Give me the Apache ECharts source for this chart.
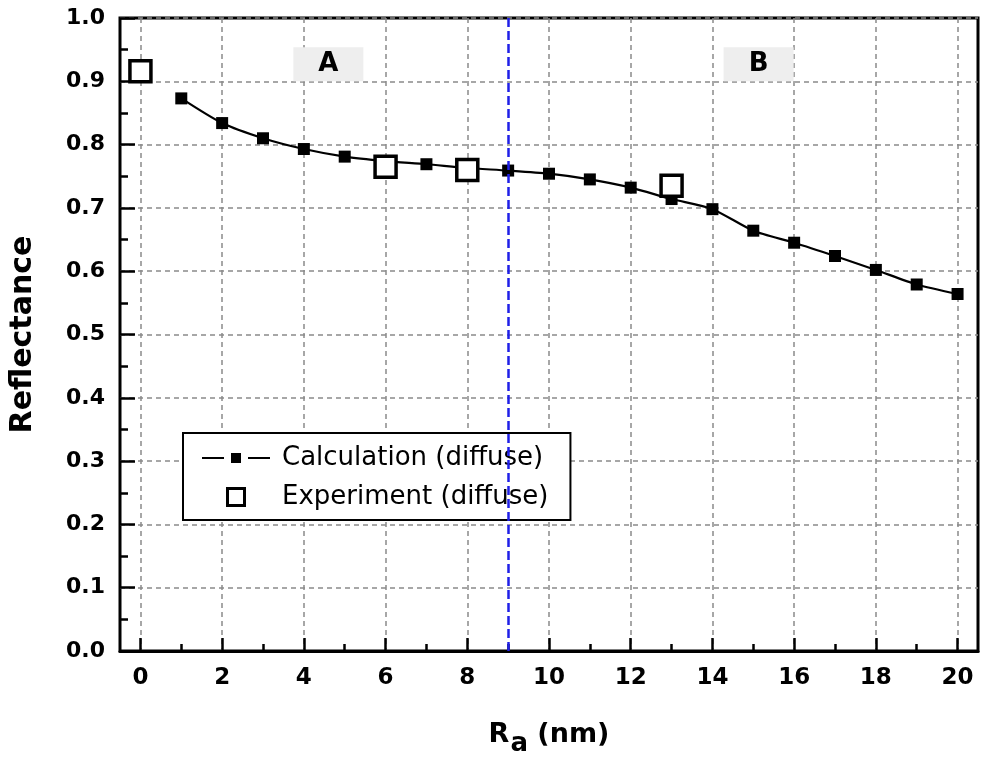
<!DOCTYPE html>
<html>
<head>
<meta charset="utf-8">
<script src="https://cdn.jsdelivr.net/npm/echarts@6/dist/echarts.min.js"></script>
<style>html,body{margin:0;padding:0;background:#fff}#c{width:988px;height:760px}</style>
</head>
<body>
<div id="c"></div>
<script>
// ---- data ----
const calcX = [1, 2, 3, 4, 5, 6, 7, 8, 9, 10, 11, 12, 13, 14, 15, 16, 17, 18, 19, 20];
const calcY = [0.873, 0.834, 0.810, 0.793, 0.781, 0.774, 0.769, 0.763, 0.759, 0.754, 0.745, 0.732, 0.714, 0.698, 0.664, 0.645, 0.624, 0.602, 0.579, 0.564];
const expX = [0, 6, 8, 13];
const expY = [0.916, 0.765, 0.760, 0.735];
const xMajorTicks = [0, 2, 4, 6, 8, 10, 12, 14, 16, 18, 20];
const xMinorTicks = [1, 3, 5, 7, 9, 11, 13, 15, 17, 19];
const regionLabels = ['A', 'B'];
const regionLabelX = [4.6, 15.13];
const regionLabelY = [0.927, 0.927];
const boundaryX = 9;
const seriesNames = ['Calculation (diffuse)', 'Experiment (diffuse)'];

const FONT = 'DejaVu Sans';
const gridLine = { show: true, lineStyle: { color: '#8a8a8a', width: 1.5, type: [5, 4] } };

const chart = echarts.init(document.getElementById('c'), null, { renderer: 'canvas' });
chart.setOption({
  animation: false,
  backgroundColor: '#fff',
  grid: { left: 120, right: 10, top: 18, bottom: 109, containLabel: false, outerBoundsMode: 'none', show: true, borderColor: '#000', borderWidth: 3, backgroundColor: 'transparent' },
  xAxis: [
    {
      type: 'value', min: -0.5, max: 20.5, position: 'bottom',
      axisLine: { show: true, onZero: false, lineStyle: { color: '#000', width: 3 } },
      axisTick: { show: true, inside: true, length: 13, lineStyle: { color: '#000', width: 2.5 }, customValues: xMajorTicks },
      axisLabel: { show: true, customValues: xMajorTicks, color: '#000', fontSize: 23, fontWeight: 'bold', fontFamily: FONT, margin: 16 },
      splitLine: Object.assign({ customValues: xMajorTicks }, gridLine),
      name: '{r|R}{s|a}{r| (nm)}',
      nameLocation: 'middle', nameGap: 70,
      nameTextStyle: {
        rich: {
          r: { fontSize: 27, fontWeight: 'bold', fontFamily: FONT, color: '#000', lineHeight: 30, verticalAlign: 'top' },
          s: { fontSize: 26, fontWeight: 'bold', fontFamily: FONT, color: '#000', lineHeight: 30, verticalAlign: 'top', padding: [10, 0, 0, 1] }
        }
      }
    },
    {
      type: 'value', min: -0.5, max: 20.5, position: 'bottom',
      axisLine: { show: false, onZero: false },
      axisTick: { show: true, inside: true, length: 7, lineStyle: { color: '#000', width: 2.5 }, customValues: xMinorTicks },
      axisLabel: { show: false },
      splitLine: { show: false }
    }
  ],
  yAxis: [
    {
      type: 'value', min: 0, max: 1, interval: 0.1, position: 'left',
      axisLine: { show: false, onZero: false },
      axisTick: { show: true, inside: true, length: 15, lineStyle: { color: '#000', width: 2.5 } },
      minorTick: { show: true, splitNumber: 2, length: 8, lineStyle: { color: '#000', width: 2.5 } },
      axisLabel: { color: '#000', fontSize: 22, fontWeight: 'bold', fontFamily: FONT, margin: 15, formatter: v => v.toFixed(1) },
      splitLine: gridLine,
      name: 'Reflectance', nameLocation: 'middle', nameGap: 82,
      nameTextStyle: { fontSize: 30, fontWeight: 'bold', fontFamily: FONT, color: '#000' }
    }
  ],
  legend: {
    orient: 'vertical', left: 183, top: 433,
    backgroundColor: '#fff', borderColor: '#000', borderWidth: 2,
    padding: [10, 22, 8, 19],
    itemWidth: 68, itemHeight: 20, itemGap: 9,
    textStyle: { fontSize: 26, fontFamily: FONT, color: '#000', lineHeight: 30, padding: [0, 0, 0, 7] },
    data: [
      { name: seriesNames[0], icon: 'path://M0,4H22V6H0Z M29,0H39V10H29Z M46,4H68V6H46Z' },
      { name: seriesNames[1], icon: 'path://M0,0H20V20H0Z M3,3V17H17V3Z', itemStyle: { color: '#000', borderWidth: 0 } }
    ]
  },
  series: [
    {
      name: seriesNames[0], type: 'line', xAxisIndex: 0, yAxisIndex: 0,
      data: calcX.map((x, i) => [x, calcY[i]]),
      smooth: 0.25,
      symbol: 'rect', symbolSize: 12,
      lineStyle: { color: '#000', width: 2.2 },
      itemStyle: { color: '#000', borderWidth: 0 },
      z: 3,
      markLine: {
        silent: true, symbol: 'none', label: { show: false },
        lineStyle: { color: '#1f1fe8', width: 2.5, type: [9, 4] },
        data: [{ xAxis: boundaryX }]
      },
      markPoint: {
        silent: true, symbol: 'rect', symbolSize: [70, 34],
        itemStyle: { color: '#eeeeee' },
        label: { show: true, position: 'inside', color: '#000', fontSize: 26, fontWeight: 'bold', fontFamily: FONT, formatter: p => p.name },
        data: regionLabels.map((t, i) => ({ name: t, coord: [regionLabelX[i], regionLabelY[i]] }))
      }
    },
    {
      name: seriesNames[1], type: 'scatter', xAxisIndex: 0, yAxisIndex: 0,
      data: expX.map((x, i) => [x, expY[i]]),
      symbol: 'rect', symbolSize: 21,
      itemStyle: { color: '#fff', borderColor: '#000', borderWidth: 3.5, opacity: 1 },
      z: 4
    }
  ]
});
</script>
</body>
</html>
